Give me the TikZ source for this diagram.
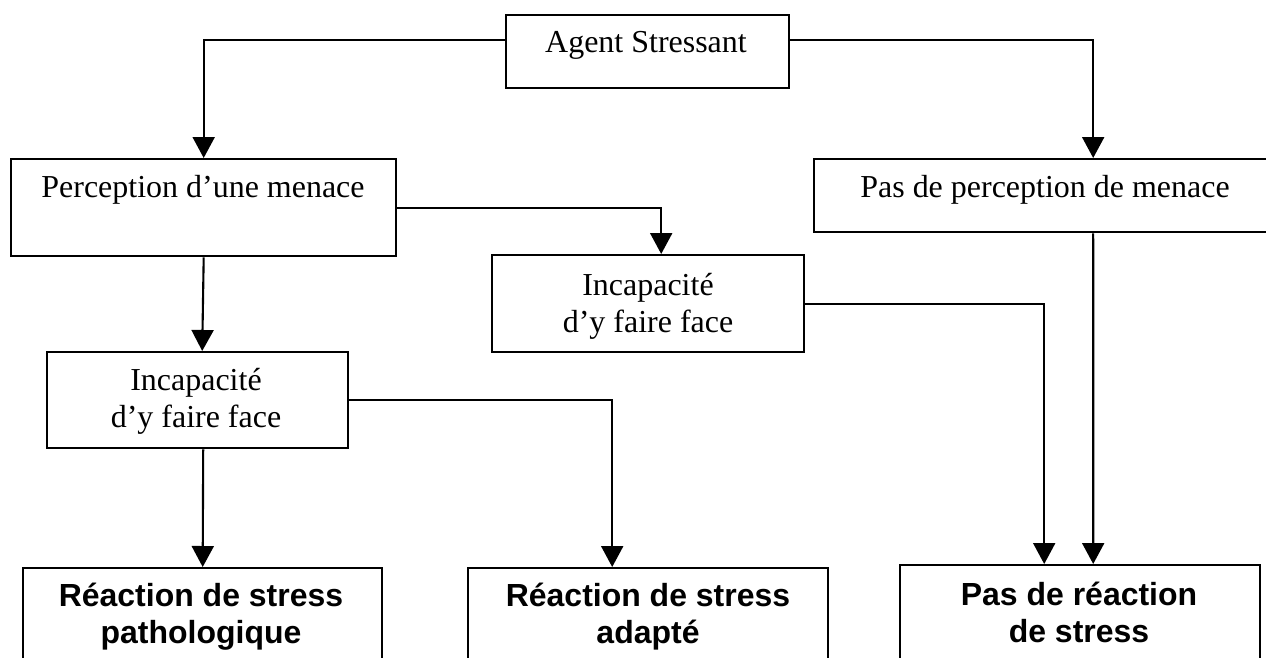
\documentclass[tikz,border=0pt]{standalone}
\usepackage{fontspec}
\setmainfont{Liberation Serif}
\newfontfamily\boldsans{Liberation Sans}
\usetikzlibrary{arrows.meta}

\begin{document}
\begin{tikzpicture}[x=0.02cm, y=-0.02cm, line width=1.2pt,
  box/.style={draw, line width=1.4pt, inner sep=0pt, anchor=north west},
  txt/.style={anchor=base, align=center, inner sep=0pt, font=\fontsize{18.2}{21}\selectfont},
  bigtxt/.style={txt, font=\boldsans\bfseries\fontsize{18.2}{21}\selectfont},
  arr/.style={-{Triangle[length=0.42cm, width=0.44cm]}}]
  \clip (0,0) rectangle (1266,658);
  % boxes
  \node[box, minimum width=5.66cm, minimum height=1.46cm] (agent) at (505,14) {};
  \node[box, minimum width=7.7cm, minimum height=1.94cm] (menace) at (10,158) {};
  \node[box, minimum width=9.26cm, minimum height=1.46cm] (nomenace) at (813,158) {};
  \node[box, minimum width=6.24cm, minimum height=1.94cm] (incapB) at (491,254) {};
  \node[box, minimum width=6.02cm, minimum height=1.92cm] (incapA) at (46,351) {};
  \node[box, minimum width=7.18cm, minimum height=2.8cm] (patho) at (22,567) {};
  \node[box, minimum width=7.2cm, minimum height=2.8cm] (adapte) at (467,567) {};
  \node[box, minimum width=7.2cm, minimum height=2.8cm] (nostress) at (899,564) {};
  % texts (base = last line)
  \node[txt] (agenttxt) at (646,53) {Agent Stressant};
  \node[txt] (menacetxt) at (203,198) {Perception d’une menace};
  \node[txt] (nomenacetxt) at (1045,198) {Pas de perception de menace};
  \node[txt] (incapBtxt) at (648,332) {Incapacité\\d’y faire face};
  \node[txt] (incapAtxt) at (196,427) {Incapacité\\d’y faire face};
  \node[bigtxt] (pathotxt) at (201,643) {Réaction de stress\\pathologique};
  \node[bigtxt] (adaptetxt) at (648,643) {Réaction de stress\\adapté};
  \node[bigtxt] (nostresstxt) at (1079,642) {Pas de réaction\\de stress};
  % arrows
  \draw[arr] ([yshift=0.23cm]agent.west) -| (menace.north);
  \draw[arr] ([yshift=0.23cm]agent.east) -| ([xshift=0.95cm]nomenace.north);
  \draw[arr] (menace.east) -| ([xshift=0.26cm]incapB.north);
  \draw[arr] (menace.south) -- ([xshift=0.09cm]incapA.north);
  \draw[arr] (incapB.east) -| ([xshift=-0.72cm]nostress.north);
  \draw[arr] ([xshift=0.95cm]nomenace.south) -- ([xshift=0.26cm]nostress.north);
  \draw[arr] (incapA.east) -| ([xshift=-0.72cm]adapte.north);
  \draw[arr] ([xshift=0.11cm]incapA.south) -- (patho.north);
\end{tikzpicture}
\end{document}
